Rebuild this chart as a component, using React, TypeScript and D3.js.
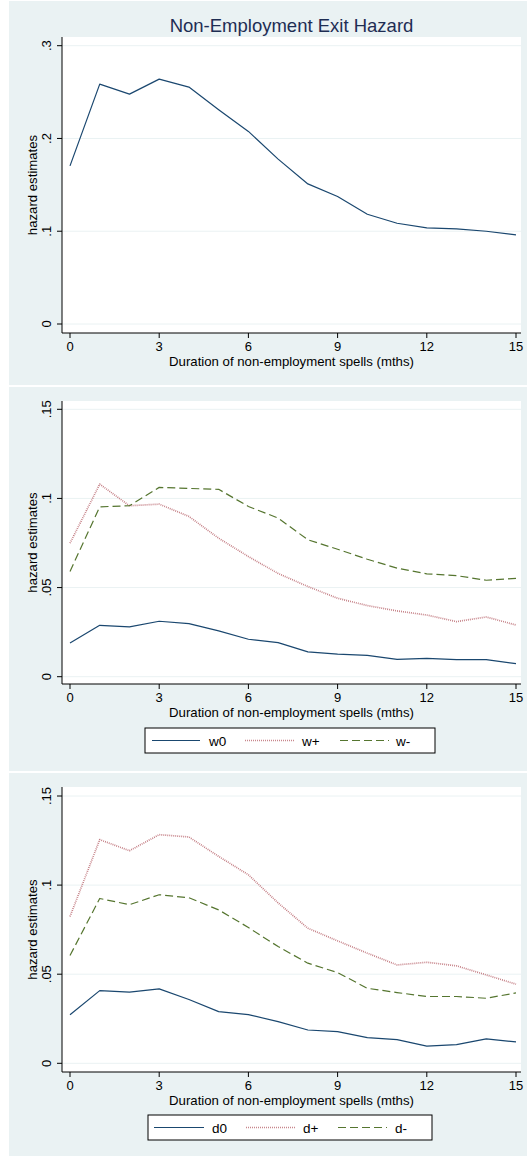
import React from "react";
import * as d3 from "d3";

// ---------- data ----------
const months = [0, 1, 2, 3, 4, 5, 6, 7, 8, 9, 10, 11, 12, 13, 14, 15];
const overallHazard = [0.1705, 0.2586, 0.2478, 0.264, 0.2554, 0.231, 0.2076, 0.1777, 0.151, 0.1374, 0.1183, 0.1086, 0.1036, 0.1025, 0.1, 0.096];
const w0 = [0.0189, 0.0288, 0.0279, 0.0311, 0.0298, 0.0257, 0.021, 0.0191, 0.0139, 0.0127, 0.012, 0.0097, 0.0103, 0.0096, 0.0096, 0.0073];
const wPlus = [0.0749, 0.108, 0.0959, 0.0968, 0.0899, 0.0777, 0.0674, 0.0579, 0.0506, 0.044, 0.0399, 0.0369, 0.0346, 0.0309, 0.0335, 0.029];
const wMinus = [0.059, 0.0953, 0.0959, 0.1062, 0.1056, 0.1051, 0.0955, 0.089, 0.0768, 0.0715, 0.0659, 0.0609, 0.0577, 0.0567, 0.0541, 0.0552];
const d0 = [0.0272, 0.0408, 0.0399, 0.0418, 0.0358, 0.029, 0.0273, 0.0234, 0.0187, 0.0178, 0.0144, 0.0133, 0.0096, 0.0105, 0.0137, 0.012];
const dPlus = [0.0824, 0.1255, 0.1193, 0.1283, 0.127, 0.1161, 0.1058, 0.09, 0.0758, 0.0687, 0.0618, 0.0552, 0.0567, 0.0547, 0.0496, 0.0444];
const dMinus = [0.0605, 0.0925, 0.089, 0.0946, 0.0929, 0.0861, 0.0762, 0.0655, 0.0562, 0.0509, 0.0421, 0.0397, 0.0375, 0.0375, 0.0365, 0.0395];

const xTicks = [0, 3, 6, 9, 12, 15];
const yTicksTop = [0, 0.1, 0.2, 0.3];
const yTicksLow = [0, 0.05, 0.1, 0.15];
const legendW = ["w0", "w+", "w-"];
const legendD = ["d0", "d+", "d-"];

const titleText = "Non-Employment Exit Hazard";
const xTitle = "Duration of non-employment spells (mths)";
const yTitle = "hazard estimates";

// ---------- styles ----------
const BG = "#eaf2f3";
const GRID = "#eaf2f3";
const FONT = "'Liberation Sans', Arial, Helvetica, sans-serif";
const STYLES = [
  { stroke: "#1a476f", width: 1.2, dash: "" },
  { stroke: "#c27a80", width: 1.7, dash: "0.9 1.1" },
  { stroke: "#55752f", width: 1.2, dash: "8 4" },
];

const fmt = (v: number) => (v === 0 ? "0" : d3.format(".2~f")(v).replace(/^0/, ""));

type PanelProps = {
  top: number;
  height: number;
  plotTop: number;
  axisY: number;
  yZero: number;
  yTopPx: number;
  yTopVal: number;
  yTicks: number[];
  series: number[][];
  title?: string;
  legend?: { labels: string[]; box: [number, number, number, number]; samples: [number, number, number][]; baseline: number };
};

const PLOT_L = 62;
const PLOT_R = 521;
const TICK_FS = 13;
const TITLE_FS = 13.2;

function Panel(p: PanelProps) {
  const x = d3.scaleLinear().domain([0, 15]).range([70, 516]);
  const y = d3.scaleLinear().domain([0, p.yTopVal]).range([p.yZero, p.yTopPx]);
  const line = d3
    .line<number>()
    .x((_, i) => x(months[i]))
    .y((d) => y(d));
  const plotMid = (p.plotTop + p.axisY) / 2;
  return (
    <g>
      <rect x={9} y={p.top} width={518} height={p.height} fill={BG} />
      <rect x={PLOT_L} y={p.plotTop} width={PLOT_R - PLOT_L} height={p.axisY - p.plotTop} fill="#ffffff" />
      {p.yTicks.map((t) => (
        <line key={"g" + t} x1={PLOT_L} x2={PLOT_R} y1={y(t)} y2={y(t)} stroke={GRID} strokeWidth={1} />
      ))}
      {p.series.map((s, i) => (
        <path
          key={"s" + i}
          d={line(s) || ""}
          fill="none"
          stroke={STYLES[i].stroke}
          strokeWidth={STYLES[i].width}
          strokeDasharray={STYLES[i].dash}
          strokeLinejoin="round"
        />
      ))}
      {/* axes */}
      <line x1={PLOT_L} x2={PLOT_L} y1={p.plotTop} y2={p.axisY} stroke="#000" strokeWidth={1} />
      <line x1={PLOT_L} x2={PLOT_R} y1={p.axisY} y2={p.axisY} stroke="#000" strokeWidth={1} />
      {p.yTicks.map((t) => (
        <g key={"yt" + t}>
          <line x1={PLOT_L - 5} x2={PLOT_L} y1={y(t)} y2={y(t)} stroke="#000" strokeWidth={1} />
          <text
            transform={`translate(51,${y(t)}) rotate(-90)`}
            textAnchor="middle"
            fontFamily={FONT}
            fontSize={TICK_FS}
            fill="#000"
          >
            {fmt(t)}
          </text>
        </g>
      ))}
      {xTicks.map((t) => (
        <g key={"xt" + t}>
          <line x1={x(t)} x2={x(t)} y1={p.axisY} y2={p.axisY + 5} stroke="#000" strokeWidth={1} />
          <text x={x(t)} y={p.axisY + 18} textAnchor="middle" fontFamily={FONT} fontSize={TICK_FS} fill="#000">
            {t}
          </text>
        </g>
      ))}
      <text x={(PLOT_L + PLOT_R) / 2} y={p.axisY + 33} textAnchor="middle" fontFamily={FONT} fontSize={TITLE_FS} fill="#000">
        {xTitle}
      </text>
      <text
        transform={`translate(37,${plotMid}) rotate(-90)`}
        textAnchor="middle"
        fontFamily={FONT}
        fontSize={TITLE_FS}
        fill="#000"
      >
        {yTitle}
      </text>
      {p.title && (
        <text x={(PLOT_L + PLOT_R) / 2} y={32} textAnchor="middle" fontFamily={FONT} fontSize={18.5} fill="#1e2d53">
          {p.title}
        </text>
      )}
      {p.legend && (
        <g>
          <rect
            x={p.legend.box[0]}
            y={p.legend.box[1]}
            width={p.legend.box[2] - p.legend.box[0]}
            height={p.legend.box[3] - p.legend.box[1]}
            fill="#ffffff"
            stroke="#000"
            strokeWidth={1}
          />
          {p.legend.labels.map((lab, i) => {
            const [s0, s1, tx] = p.legend!.samples[i];
            const ly = (p.legend!.box[1] + p.legend!.box[3]) / 2;
            return (
              <g key={"lg" + i}>
                <line
                  x1={s0}
                  x2={s1}
                  y1={ly}
                  y2={ly}
                  stroke={STYLES[i].stroke}
                  strokeWidth={STYLES[i].width}
                  strokeDasharray={STYLES[i].dash}
                />
                <text x={tx} y={p.legend!.baseline} fontFamily={FONT} fontSize={13.5} fill="#000">
                  {lab}
                </text>
              </g>
            );
          })}
        </g>
      )}
    </g>
  );
}

export default function App() {
  return (
    <div style={{ position: "absolute", left: 0, top: 0 }}>
      <svg width={527} height={1156} style={{ display: "block", background: "#ffffff" }}>
        <Panel
          top={1}
          height={384}
          plotTop={37}
          axisY={333}
          yZero={324}
          yTopPx={45.7}
          yTopVal={0.3}
          yTicks={yTicksTop}
          series={[overallHazard]}
          title={titleText}
        />
        <Panel
          top={387}
          height={384}
          plotTop={401}
          axisY={684}
          yZero={676.7}
          yTopPx={409.3}
          yTopVal={0.15}
          yTicks={yTicksLow}
          series={[w0, wPlus, wMinus]}
          legend={{
            labels: legendW,
            box: [145, 728, 435, 753],
            samples: [
              [152, 200, 209],
              [245, 295, 302],
              [340, 389, 396],
            ],
            baseline: 745.5,
          }}
        />
        <Panel
          top={773}
          height={383}
          plotTop={787}
          axisY={1072}
          yZero={1063.3}
          yTopPx={796}
          yTopVal={0.15}
          yTicks={yTicksLow}
          series={[d0, dPlus, dMinus]}
          legend={{
            labels: legendD,
            box: [148, 1115, 432, 1140],
            samples: [
              [154, 204, 212],
              [246, 296, 303],
              [338, 387, 395],
            ],
            baseline: 1132.5,
          }}
        />
      </svg>
    </div>
  );
}
